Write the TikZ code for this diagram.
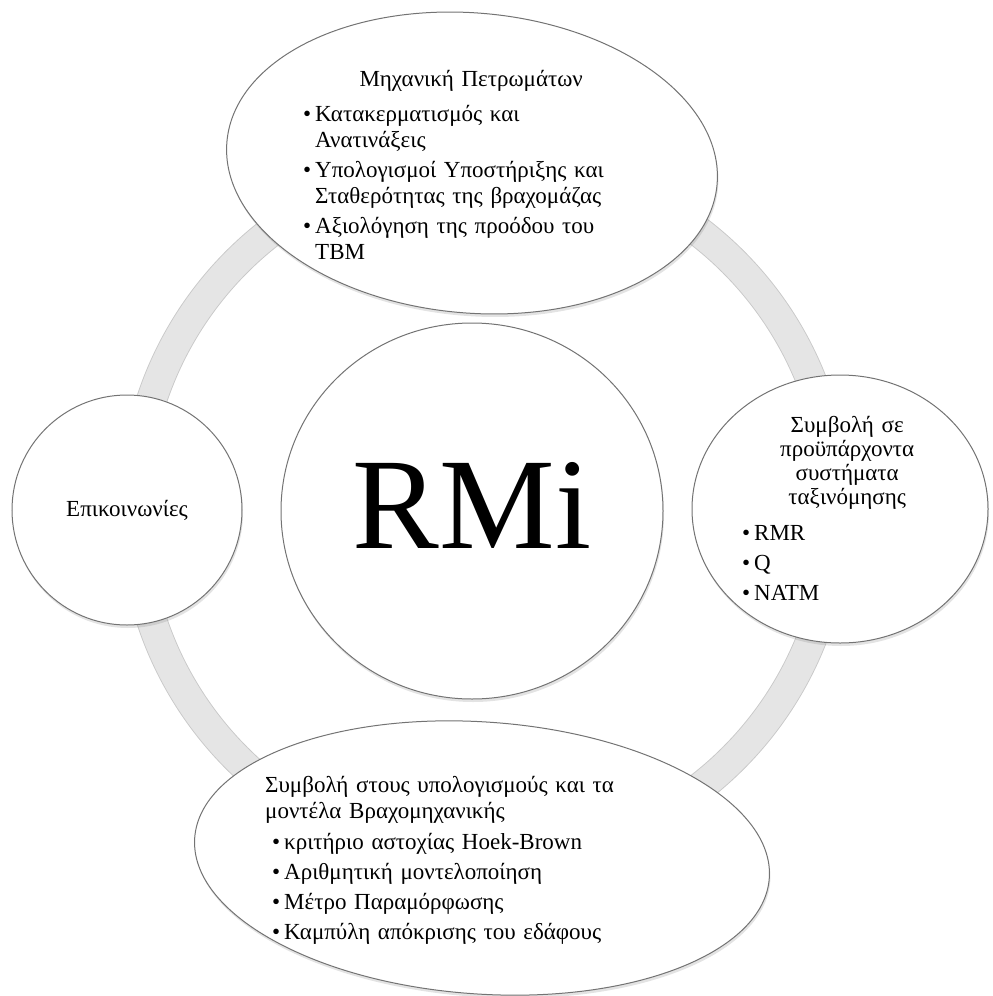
\documentclass[tikz,border=0pt]{standalone}
\usepackage{fontspec}
\setmainfont{Liberation Serif}
\usetikzlibrary{shapes.geometric,shadows}

\newcommand\bitem[2][0pt]{\par\vspace{4pt}\hangindent=\dimexpr#1+12pt\relax\hangafter=1\noindent\hspace*{#1}\makebox[12pt][l]{\textbullet}#2\par}

\tikzstyle{ringband} = [line width=31pt, draw=black!10]
\tikzstyle{ringedge} = [line width=0.6pt, draw=black!22]
\tikzstyle{bubble} = [
    ellipse, draw=black!55, line width=1pt, fill=white, inner sep=0pt,
    drop shadow={shadow xshift=1pt, shadow yshift=-3pt, opacity=0.22}
]
\tikzstyle{label} = [
    inner sep=0pt, align=left,
    font=\fontsize{23}{26}\selectfont
]

\begin{document}
\begin{tikzpicture}[x=1pt, y=-1pt]
    \useasboundingbox (0,0) rectangle (993,996);

    \draw [ringband] (485,510) circle (351);
    \draw [ringedge] (485,510) circle (366);
    \draw [ringedge] (485,510) circle (336);

    \node (mechshape) [bubble, minimum width=492pt, minimum height=300pt, rotate=-5] at (472,163) {};
    \node (classshape) [bubble, minimum width=296pt, minimum height=268pt] at (840,509) {};
    \node (modelshape) [bubble, minimum width=576pt, minimum height=272pt, rotate=-4] at (482,858) {};
    \node (commshape) [bubble, minimum width=230pt, minimum height=230pt] at (127,510) {};
    \node (rmishape) [bubble, minimum width=382pt, minimum height=376pt] at (472,511) {};

    \node (rmi) [inner sep=0pt, font=\fontsize{130}{130}\selectfont, yshift=6pt] at (rmishape.center) {RMi};
    \node (comm) [label] at (commshape.center) {Επικοινωνίες};

    \node (mech) [label, text width=336pt, anchor=north west] at (303,70) {%
        {\centering Μηχανική Πετρωμάτων\par}\vspace{5pt}%
        \bitem{Κατακερματισμός και\newline Ανατινάξεις}%
        \bitem{Υπολογισμοί Υποστήριξης και\newline Σταθερότητας της βραχομάζας}%
        \bitem{Αξιολόγηση της προόδου του\newline TBM}};

    \node (class) [label, text width=210pt, anchor=north west, font=\fontsize{23}{24}\selectfont] at (742,416) {%
        {\centering Συμβολή σε\par προϋπάρχοντα\par συστήματα\par ταξινόμησης\par}\vspace{8pt}%
        \bitem{RMR}\vspace{2pt}%
        \bitem{Q}\vspace{2pt}%
        \bitem{NATM}};

    \node (model) [label, text width=420pt, anchor=north west] at (265,776) {%
        Συμβολή στους υπολογισμούς και τα\newline μοντέλα Βραχομηχανικής\par\vspace{1pt}%
        \bitem[7pt]{κριτήριο αστοχίας Hoek-Brown}%
        \bitem[7pt]{Αριθμητική μοντελοποίηση}%
        \bitem[7pt]{Μέτρο Παραμόρφωσης}%
        \bitem[7pt]{Καμπύλη απόκρισης του εδάφους}};
\end{tikzpicture}
\end{document}
